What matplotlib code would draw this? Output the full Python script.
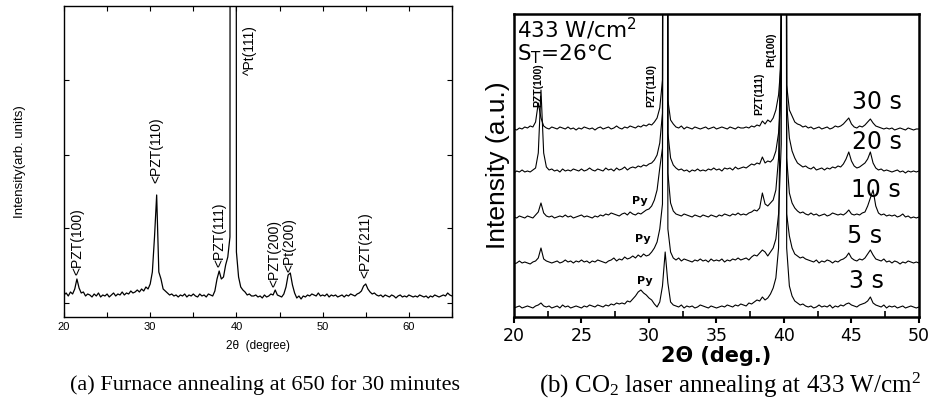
import numpy as np
import matplotlib.pyplot as plt
from matplotlib.ticker import MultipleLocator

plt.rcParams['font.family'] = ['Liberation Sans', 'DejaVu Sans']
plt.rcParams['mathtext.default'] = 'regular'

# ---------------- (a) recocido en horno ----------------
theta_a = np.arange(20, 65.001, 0.25)
intensidad_a = [
    22, 24, 21, 25,   # 20
    23, 28, 38, 29,   # 21
    24, 25, 21, 23,   # 22
    22, 20, 23, 21,   # 23
    24, 20, 22, 21,   # 24
    23, 20, 22, 24,   # 25
    21, 23, 22, 25,   # 26
    22, 24, 23, 26,   # 27
    24, 25, 27, 25,   # 28
    28, 26, 30, 28,   # 29
    33, 45, 80, 122,  # 30
    45, 38, 28, 26,   # 31
    24, 22, 23, 21,   # 32
    22, 20, 22, 21,   # 33
    23, 20, 22, 21,   # 34
    23, 21, 20, 23,   # 35
    21, 22, 20, 23,   # 36
    22, 21, 26, 38,   # 37
    46, 38, 40, 52,   # 38
    60, 80, 5000, 5000,  # 39
    65, 40, 30, 27,   # 40
    25, 22, 23, 21,   # 41
    21, 22, 20, 21,   # 42
    19, 22, 20, 21,   # 43
    23, 22, 27, 22,   # 44
    21, 20, 23, 30,   # 45
    42, 44, 32, 24,   # 46
    19, 21, 18, 21,   # 47
    20, 22, 21, 23,   # 48
    22, 21, 24, 21,   # 49
    22, 21, 23, 20,   # 50
    22, 21, 22, 20,   # 51
    21, 22, 20, 22,   # 52
    21, 23, 22, 21,   # 53
    23, 24, 26, 31,   # 54
    33, 28, 25, 23,   # 55
    24, 22, 21, 22,   # 56
    20, 22, 21, 20,   # 57
    22, 21, 19, 21,   # 58
    22, 20, 21, 20,   # 59
    22, 21, 20, 21,   # 60
    20, 22, 21, 20,   # 61
    21, 19, 21, 20,   # 62
    22, 21, 20, 21,   # 63
    22, 21, 24, 22,   # 64
    21,               # 65
]
picos_a = ['<PZT(100)', '<PZT(110)', '^Pt(111)', '<PZT(111)', '<PZT(200)', '<Pt(200)', '<PZT(211)']
picos_a_x = [21.5, 30.75, 41.6, 38.0, 44.4, 46.2, 55.0]
picos_a_y = [42, 134, 242, 50, 30, 45, 39]

# ---------------- (b) recocido laser CO2 ----------------
theta_b = np.arange(20, 50.001, 0.2)
tiempos = ['30 s', '20 s', '10 s', '5 s', '3 s']
desplazamiento = [187, 144, 99, 53, 9]

i_30s = [
    1, 0, 2, 1, 3,  2, 4, 3, 8, 27,  12, 4, 2, 1, 3,  2, 1, 3, 2, 1,
    3, 1, 2, 0, 2,  1, 3, 2, 1, 2,  0, 2, 3, 1, 2,  3, 1, 2, 4, 2,
    1, 3, 2, 4, 3,  2, 4, 3, 5, 4,  6, 5, 8, 12, 22,  50, 3000, 30, 10, 6,
    3, 2, 4, 1, 3,  2, 1, 3, 2, 1,  2, 3, 1, 2, 3,  1, 2, 3, 2, 1,
    3, 2, 1, 3, 2,  2, 3, 2, 4, 3,  5, 4, 9, 6, 10,  8, 12, 20, 35, 70,
    3000, 45, 20, 14, 8,  6, 5, 3, 4, 2,  3, 1, 2, 3, 1,  2, 3, 1, 2, 4,
    3, 4, 6, 9, 12,  6, 3, 2, 4, 3,  5, 8, 11, 7, 4,  3, 2, 1, 2, 1,
    2, 0, 1, 2, 1,  0, 2, 1, 0, 1,  1,
]
i_20s = [
    0, 2, 1, 3, 1,  2, 1, 3, 5, 20,  83, 20, 6, 3, 4,  2, 3, 1, 4, 2,
    3, 2, 4, 3, 2,  4, 2, 3, 5, 3,  2, 4, 3, 2, 5,  3, 4, 2, 5, 3,
    4, 6, 3, 5, 6,  5, 7, 6, 8, 7,  9, 10, 13, 18, 30,  60, 3000, 40, 15, 8,
    5, 3, 4, 2, 3,  1, 3, 2, 4, 2,  3, 2, 4, 3, 5,  3, 4, 2, 5, 4,
    5, 3, 6, 4, 5,  6, 5, 7, 9, 8,  10, 9, 16, 10, 12,  11, 14, 22, 40, 80,
    3000, 70, 35, 22, 15,  10, 8, 6, 7, 5,  4, 6, 3, 4, 5,  3, 5, 4, 6, 5,
    7, 6, 9, 14, 21,  12, 7, 5, 6, 8,  10, 14, 21, 10, 5,  3, 4, 2, 3, 2,
    1, 2, 3, 1, 2,  0, 2, 1, 2, 1,  2,
]
i_10s = [
    1, 0, 2, 1, 0,  2, 1, 0, 3, 6,  15, 5, 2, 1, 2,  0, 1, 2, 1, 3,
    1, 2, 0, 1, 2,  3, 1, 2, 1, 0,  2, 1, 3, 2, 4,  3, 5, 4, 3, 2,
    4, 5, 3, 6, 4,  3, 5, 4, 6, 8,  9, 12, 18, 28, 50,  70, 3000, 45, 15, 7,
    4, 3, 2, 4, 3,  2, 1, 3, 2, 1,  3, 2, 1, 3, 2,  1, 3, 2, 4, 3,
    2, 4, 3, 5, 3,  4, 3, 5, 6, 8,  7, 10, 25, 14, 12,  15, 18, 28, 60, 200,
    3000, 60, 25, 15, 10,  7, 5, 6, 4, 3,  5, 3, 4, 2, 3,  4, 2, 3, 5, 4,
    3, 4, 3, 5, 8,  4, 3, 4, 3, 5,  6, 12, 20, 28, 12,  5, 3, 4, 2, 3,
    2, 3, 1, 2, 4,  1, 2, 0, 1, 0,  1,
]
i_5s = [
    0, 1, 3, 1, 2,  1, 0, 2, 3, 6,  16, 5, 3, 2, 1,  2, 3, 1, 2, 4,
    2, 3, 1, 3, 2,  4, 2, 3, 1, 3,  2, 4, 3, 2, 1,  3, 4, 6, 3, 5,
    4, 7, 5, 6, 8,  6, 9, 7, 10, 8,  9, 12, 16, 22, 35,  60, 3000, 35, 12, 6,
    4, 6, 3, 5, 4,  3, 2, 4, 3, 5,  3, 4, 2, 5, 3,  4, 3, 5, 2, 4,
    3, 5, 4, 6, 4,  5, 6, 4, 7, 9,  8, 11, 14, 12, 8,  12, 16, 25, 50, 120,
    3000, 50, 28, 16, 10,  8, 6, 7, 5, 4,  3, 2, 4, 1, 3,  2, 4, 3, 1, 3,
    2, 4, 5, 7, 11,  6, 4, 3, 5, 4,  6, 10, 14, 9, 5,  4, 3, 5, 2, 3,
    1, 3, 2, 0, 2,  1, 3, 2, 1, 2,  1,
]
i_3s = [
    0, 1, 2, 0, 1,  2, 1, 0, 2, 3,  5, 2, 1, 2, 0,  1, 2, 0, 3, 1,
    2, 0, 1, 2, 1,  0, 2, 1, 3, 2,  1, 3, 2, 1, 3,  2, 4, 3, 5, 4,
    5, 4, 7, 6, 9,  12, 16, 18, 15, 13,  10, 8, 4, 1, 6,  22, 56, 25, 6, 3,
    2, 1, 3, 0, 2,  1, 2, 0, 1, 3,  2, 1, 0, 2, 1,  0, 1, 2, 1, 3,
    2, 1, 3, 2, 4,  3, 2, 5, 4, 6,  8, 7, 11, 8, 10,  14, 20, 30, 60, 300,
    3000, 60, 22, 12, 7,  5, 3, 4, 2, 1,  2, 0, 1, 3, 1,  2, 1, 3, 0, 2,
    1, 3, 2, 4, 5,  3, 2, 1, 3, 4,  5, 7, 11, 5, 3,  2, 1, 3, 0, 2,
    1, 2, 0, 1, 2,  0, 1, 2, 1, 0,  1,
]
curvas_b = [i_30s, i_20s, i_10s, i_5s, i_3s]

# posiciones de las etiquetas del panel (b)
tiempos_x = [46.9, 46.9, 46.8, 46.0, 46.1]
tiempos_y = [215, 175, 127, 81, 36]
py_x = [29.35, 29.55, 29.7]
py_y = [116, 78, 36]
picos_b = ['PZT(100)', 'PZT(110)', 'PZT(111)', 'Pt(100)']
picos_b_x = [21.8, 30.15, 38.15, 39.05]
picos_b_y = [210, 210, 202, 250]

fig = plt.figure(figsize=(9.34, 4.01), dpi=100)

# ---- panel (a) ----
ax1 = fig.add_axes([0.0685, 0.2095, 0.4154, 0.7756])
ax1.plot(theta_a, intensidad_a, color='black', lw=0.9)
ax1.set_xlim(20, 65)
ax1.set_ylim(0, 311)
ax1.xaxis.set_major_locator(MultipleLocator(10))
ax1.xaxis.set_minor_locator(MultipleLocator(5))
ax1.set_yticks([14, 89, 162, 237])
ax1.tick_params(which='both', direction='in', top=True, right=True,
                length=3.5, width=0.8, labelleft=False, labelsize=8)
for s in ax1.spines.values():
    s.set_linewidth(1.0)
ax1.set_xlabel('2θ  (degree)', fontsize=8.5, labelpad=6)
ax1.set_ylabel('Intensity(arb. units)', fontsize=9.5, labelpad=27)
for nombre, x, y in zip(picos_a, picos_a_x, picos_a_y):
    ax1.text(x, y, nombre, rotation=90, ha='center', va='bottom', fontsize=10)

# ---- panel (b) ----
ax2 = fig.add_axes([0.5503, 0.2095, 0.4336, 0.7556])
for curva, d in zip(curvas_b, desplazamiento):
    ax2.plot(theta_b, np.array(curva) + d, color='black', lw=0.8)
ax2.set_xlim(20, 50)
ax2.set_ylim(0, 303)
ax2.xaxis.set_major_locator(MultipleLocator(5))
ax2.xaxis.set_minor_locator(MultipleLocator(2.5))
ax2.set_yticks([])
ax2.tick_params(axis='x', which='major', direction='out', length=4, width=1.5,
                labelsize=12.5, pad=3)
ax2.tick_params(axis='x', which='minor', direction='in', length=4, width=1.2)
plt.setp(ax2.get_xticklabels(), family='DejaVu Sans')
for s in ax2.spines.values():
    s.set_linewidth(1.8)
ax2.set_xlabel('2Θ (deg.)', fontsize=15, fontweight='bold', family='DejaVu Sans', labelpad=1)
ax2.set_ylabel('Intensity (a.u.)', fontsize=19, labelpad=3)

ax2.text(20.22, 279, '433 W/cm$^{2}$', fontsize=15.5, family='DejaVu Sans', va='baseline')
ax2.text(20.22, 257, 'S$_{T}$=26°C', fontsize=15.5, family='DejaVu Sans', va='baseline')
for t, x, y in zip(tiempos, tiempos_x, tiempos_y):
    ax2.text(x, y, t, fontsize=17, family='DejaVu Sans', ha='center', va='center')
for x, y in zip(py_x, py_y):
    ax2.text(x, y, 'Py', fontsize=8, family='DejaVu Sans', fontweight='bold',
             ha='center', va='center')
for nombre, x, y in zip(picos_b, picos_b_x, picos_b_y):
    ax2.text(x, y, nombre, rotation=90, ha='center', va='bottom', fontsize=7.5,
             fontweight='bold')

# ---- leyendas de cada figura ----
fig.text(265 / 934, 0.04, '(a) Furnace annealing at 650 for 30 minutes',
         family='Liberation Serif', fontsize=16, ha='center', va='center')
fig.text(730 / 934, 0.04, '(b) CO$_{2}$ laser annealing at 433 W/cm$^{2}$',
         family='Liberation Serif', fontsize=18, ha='center', va='center')

fig.savefig('out.png', dpi=100)
